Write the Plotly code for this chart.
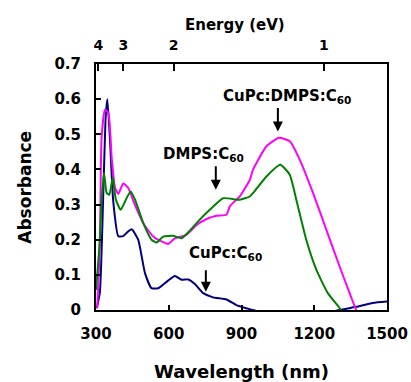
import plotly.graph_objects as go

# CuPc:C60 (blue)
wl_b = [303, 316, 330, 340, 347, 358, 371, 392, 412, 430, 447, 474, 502, 529, 557, 591, 625, 653, 680, 708, 742, 783, 838, 879, 920, 947, 1000, 1100, 1200, 1305, 1373, 1441, 1500]
ab_b = [0.005, 0.05, 0.33, 0.55, 0.60, 0.48, 0.31, 0.21, 0.21, 0.222, 0.23, 0.20, 0.105, 0.062, 0.062, 0.08, 0.097, 0.086, 0.087, 0.074, 0.048, 0.036, 0.03, 0.014, 0.005, 0.0, -0.01, -0.02, -0.015, 0.0, 0.009, 0.02, 0.024]

# CuPc:DMPS:C60 (magenta)
wl_m = [305, 316, 323, 337, 351, 365, 378, 392, 412, 433, 460, 495, 536, 570, 598, 625, 673, 715, 756, 797, 838, 852, 879, 893, 934, 948, 1003, 1055, 1099, 1140, 1195, 1250, 1305, 1346, 1373, 1400]
ab_m = [0.005, 0.19, 0.49, 0.57, 0.56, 0.43, 0.35, 0.33, 0.36, 0.347, 0.30, 0.247, 0.209, 0.195, 0.188, 0.204, 0.214, 0.242, 0.259, 0.268, 0.271, 0.295, 0.314, 0.323, 0.37, 0.40, 0.466, 0.49, 0.48, 0.428, 0.333, 0.228, 0.123, 0.048, 0.0, -0.03]

# DMPS:C60 (green)
wl_g = [300, 314, 323, 333, 344, 355, 369, 382, 402, 426, 443, 461, 495, 529, 550, 577, 618, 653, 687, 728, 769, 824, 879, 893, 934, 948, 1003, 1060, 1099, 1126, 1167, 1209, 1256, 1305, 1340]
ab_g = [0.057, 0.18, 0.31, 0.39, 0.333, 0.328, 0.376, 0.314, 0.285, 0.318, 0.337, 0.314, 0.247, 0.20, 0.192, 0.209, 0.211, 0.204, 0.226, 0.257, 0.285, 0.318, 0.314, 0.314, 0.323, 0.333, 0.38, 0.413, 0.385, 0.314, 0.20, 0.114, 0.048, 0.005, -0.03]

x_ticks = [300, 600, 900, 1200, 1500]
y_ticks = [0, 0.1, 0.2, 0.3, 0.4, 0.5, 0.6, 0.7]
y_ticktext = ["0", "0.1", "0.2", "0.3", "0.4", "0.5", "0.6", "0.7"]
energy_labels = ["4", "3", "2", "1"]
energy_values = [4, 3, 2, 1]
energy_pos = [1240.0 / e for e in energy_values]

FONT = "DejaVu Sans"

fig = go.Figure()
line_shape = dict(shape="spline", smoothing=0.5)
fig.add_trace(go.Scatter(x=wl_b, y=ab_b, mode="lines", line=dict(color="#000080", width=2, **line_shape), showlegend=False))
fig.add_trace(go.Scatter(x=wl_m, y=ab_m, mode="lines", line=dict(color="#FF00FF", width=2, **line_shape), showlegend=False))
fig.add_trace(go.Scatter(x=wl_g, y=ab_g, mode="lines", line=dict(color="#008000", width=2, **line_shape), showlegend=False))
# dummy trace on top axis
fig.add_trace(go.Scatter(x=[300], y=[None], xaxis="x2", mode="lines", showlegend=False, hoverinfo="skip"))

tickfont = dict(family=FONT, size=15, color="black", weight="bold")

fig.update_layout(
    width=411, height=382,
    margin=dict(l=96, r=24, t=64, b=72, pad=0, autoexpand=False),
    paper_bgcolor="white", plot_bgcolor="white",
    xaxis=dict(range=[300, 1500], tickvals=x_ticks, ticks="inside", ticklen=5, tickwidth=2,
               tickcolor="black", showline=True, linecolor="black", linewidth=2,
               showgrid=False, zeroline=False, tickfont=tickfont, ticklabelstandoff=9,
               automargin=False),
    xaxis2=dict(range=[300, 1500], overlaying="x", side="top", tickvals=energy_pos,
                ticktext=energy_labels, ticks="inside", ticklen=7, tickwidth=2,
                tickcolor="black", showline=True, linecolor="black", linewidth=2,
                showgrid=False, zeroline=False, automargin=False,
                tickfont=dict(family=FONT, size=14, color="black", weight="bold"),
                ticklabelstandoff=6),
    yaxis=dict(range=[0, 0.7], tickvals=y_ticks, ticktext=y_ticktext, ticks="inside",
               ticklen=5, tickwidth=2, tickcolor="black", showline=True, linecolor="black",
               linewidth=2, mirror=True, showgrid=False, zeroline=False, tickfont=tickfont,
               ticklabelstandoff=10, automargin=False),
)

annfont = dict(family=FONT, size=15, color="black", weight="bold")
titlefont = dict(family=FONT, size=18, color="black", weight="bold")

anns = [
    dict(text="Energy (eV)", x=0.477, y=1.16, xref="paper", yref="paper", showarrow=False,
         font=dict(family=FONT, size=15, color="black", weight="bold"), xanchor="center", yanchor="middle"),
    dict(text="Wavelength (nm)", x=0.50, y=-0.251, xref="paper", yref="paper", showarrow=False,
         font=titlefont, xanchor="center", yanchor="middle"),
    dict(text="Absorbance", x=-0.245, y=0.50, xref="paper", yref="paper", showarrow=False,
         font=dict(family=FONT, size=17, color="black", weight="bold"), textangle=-90,
         xanchor="center", yanchor="middle"),
    dict(text="CuPc:DMPS:C<sub>60</sub>", x=1086, y=0.608, xref="x", yref="y", showarrow=False,
         font=annfont, xanchor="center", yanchor="middle"),
    dict(text="DMPS:C<sub>60</sub>", x=745, y=0.442, xref="x", yref="y", showarrow=False,
         font=annfont, xanchor="center", yanchor="middle"),
    dict(text="CuPc:C<sub>60</sub>", x=835, y=0.16, xref="x", yref="y", showarrow=False,
         font=annfont, xanchor="center", yanchor="middle"),
    dict(text="", x=1050, y=0.508, xref="x", yref="y", showarrow=True, ax=0, ay=-25,
         arrowhead=2, arrowsize=1, arrowwidth=2, arrowcolor="black"),
    dict(text="", x=794, y=0.342, xref="x", yref="y", showarrow=True, ax=0, ay=-25,
         arrowhead=2, arrowsize=1, arrowwidth=2, arrowcolor="black"),
    dict(text="", x=753, y=0.052, xref="x", yref="y", showarrow=True, ax=0, ay=-23,
         arrowhead=2, arrowsize=1, arrowwidth=2, arrowcolor="black"),
]
fig.update_layout(annotations=anns)

fig.write_html("out.html")
